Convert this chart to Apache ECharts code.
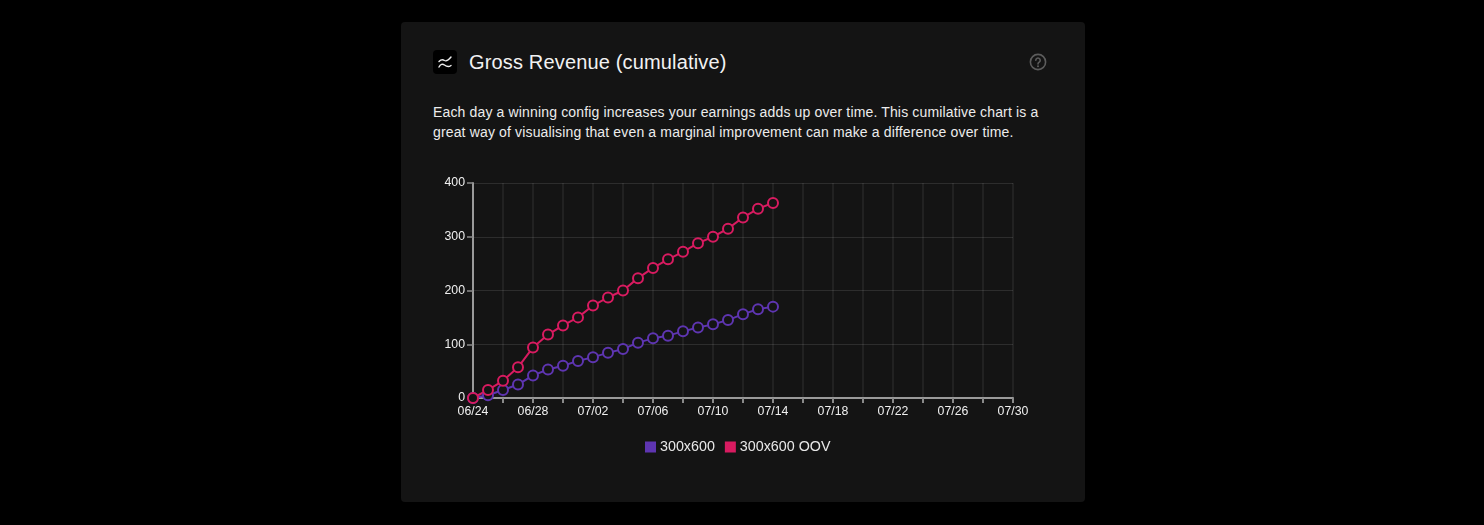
<!DOCTYPE html>
<html><head><meta charset="utf-8">
<script src="https://cdn.jsdelivr.net/npm/echarts@6/dist/echarts.min.js"></script>
<style>
html,body{margin:0;padding:0;background:#000;width:1484px;height:525px;overflow:hidden;font-family:"Liberation Sans",Arial,sans-serif}
#card{position:absolute;left:401px;top:22px;width:684px;height:480px;background:#141414;border-radius:4px}
#icon{position:absolute;left:433px;top:50px;width:24px;height:24px;background:#000;border-radius:4px}
#title{position:absolute;left:469px;top:50px;line-height:24px;font-size:20px;letter-spacing:.16px;color:#f2f2f2;white-space:nowrap}
#desc{position:absolute;left:433px;top:102px;font-size:14px;letter-spacing:.15px;line-height:20px;color:#ececec;white-space:nowrap}
#help{position:absolute;left:1029px;top:53px}
#chart{position:absolute;left:0;top:0;width:1484px;height:525px}
</style></head><body>
<div id="card"></div>
<div id="icon"><svg width="24" height="24" viewBox="0 0 24 24" fill="none" stroke="#eee" stroke-width="1.4" stroke-linecap="round" stroke-linejoin="round"><path d="M6 11.5 C8 9.5 10 9.5 11.5 10.5 C14 12 16 9.5 18 7"/><path d="M6 17 C7.5 14 9.5 13.5 11.5 15 C14 17 16 17 18 15.5"/></svg></div>
<div id="title">Gross Revenue (cumulative)</div>
<div id="desc">Each day a winning config increases your earnings adds up over time. This cumilative chart is a<br>great way of visualising that even a marginal improvement can make a difference over time.</div>
<svg id="help" width="18" height="18" viewBox="0 0 18 18" fill="none"><circle cx="9" cy="9" r="7.6" stroke="#5c5c5c" stroke-width="1.6"/><path d="M6.8 7.2a2.2 2.2 0 1 1 3.4 1.9c-.8.5-1.2.9-1.2 1.8" stroke="#5c5c5c" stroke-width="1.6" stroke-linecap="round"/><circle cx="9" cy="13.2" r="1" fill="#5c5c5c"/></svg>
<div id="chart"></div>
<script>
const categories = ["06/24","06/25","06/26","06/27","06/28","06/29","06/30","07/01","07/02","07/03","07/04","07/05","07/06","07/07","07/08","07/09","07/10","07/11","07/12","07/13","07/14","07/15","07/16","07/17","07/18","07/19","07/20","07/21","07/22","07/23","07/24","07/25","07/26","07/27","07/28","07/29","07/30"];
const purpleValues = [0,5,15,25,42,53,60,69,76,84,91,103,111,116,124,131,137,145,156,165,170];
const pinkValues = [0,15,32,57,94,118,135,150,172,187,200,223,242,258,272,288,300,315,336,352,363];
const seriesNames = ["300x600","300x600 OOV"];
const yTicks = [0,100,200,300,400];

const chart = echarts.init(document.getElementById('chart'), null, {renderer:'canvas'});
const mk = (name,data,color)=>({
  name,type:'line',data,symbol:'circle',symbolSize:10,showSymbol:true,showAllSymbol:true,smooth:false,
  lineStyle:{color,width:2},
  itemStyle:{color:'#141414',borderColor:color,borderWidth:2},
  animation:false
});
chart.setOption({
  animation:false,
  backgroundColor:'transparent',
  textStyle:{fontFamily:'"Liberation Sans",Arial,sans-serif'},
  grid:{left:473,top:183,width:540,height:215,containLabel:false},
  legend:{
    show:true,top:440,left:645,padding:0,
    data:seriesNames.map((n,i)=>({name:n,icon:'rect',itemStyle:{color:i?'#d81b60':'#5e35b1',borderWidth:0}})),
    itemWidth:11,itemHeight:11,itemGap:10,
    textStyle:{color:'#e8e8e8',fontSize:14.3,padding:[0,0,0,-1]}
  },
  xAxis:{
    type:'category',data:categories,boundaryGap:false,
    axisLine:{show:true,lineStyle:{color:'#9a9a9a',width:2}},
    axisTick:{show:true,alignWithLabel:true,interval:1,length:5,lineStyle:{color:'#8a8a8a',width:2}},
    axisLabel:{color:'#f0f0f0',fontSize:12.3,interval:3,margin:8,showMaxLabel:true},
    splitLine:{show:true,interval:1,lineStyle:{color:'rgba(255,255,255,0.085)',width:1.5}}
  },
  yAxis:{
    type:'value',min:yTicks[0],max:yTicks[yTicks.length-1],interval:100,
    axisLine:{show:true,onZero:false,lineStyle:{color:'#9a9a9a',width:2}},
    axisTick:{show:true,length:6,lineStyle:{color:'#8a8a8a',width:1.5}},
    axisLabel:{color:'#f0f0f0',fontSize:12.3,margin:8,padding:[4,0,0,0]},
    splitLine:{show:true,lineStyle:{color:'rgba(255,255,255,0.11)',width:1}}
  },
  series:[mk(seriesNames[0],purpleValues,'#5e35b1'),mk(seriesNames[1],pinkValues,'#d81b60')]
});
</script>
</body></html>
